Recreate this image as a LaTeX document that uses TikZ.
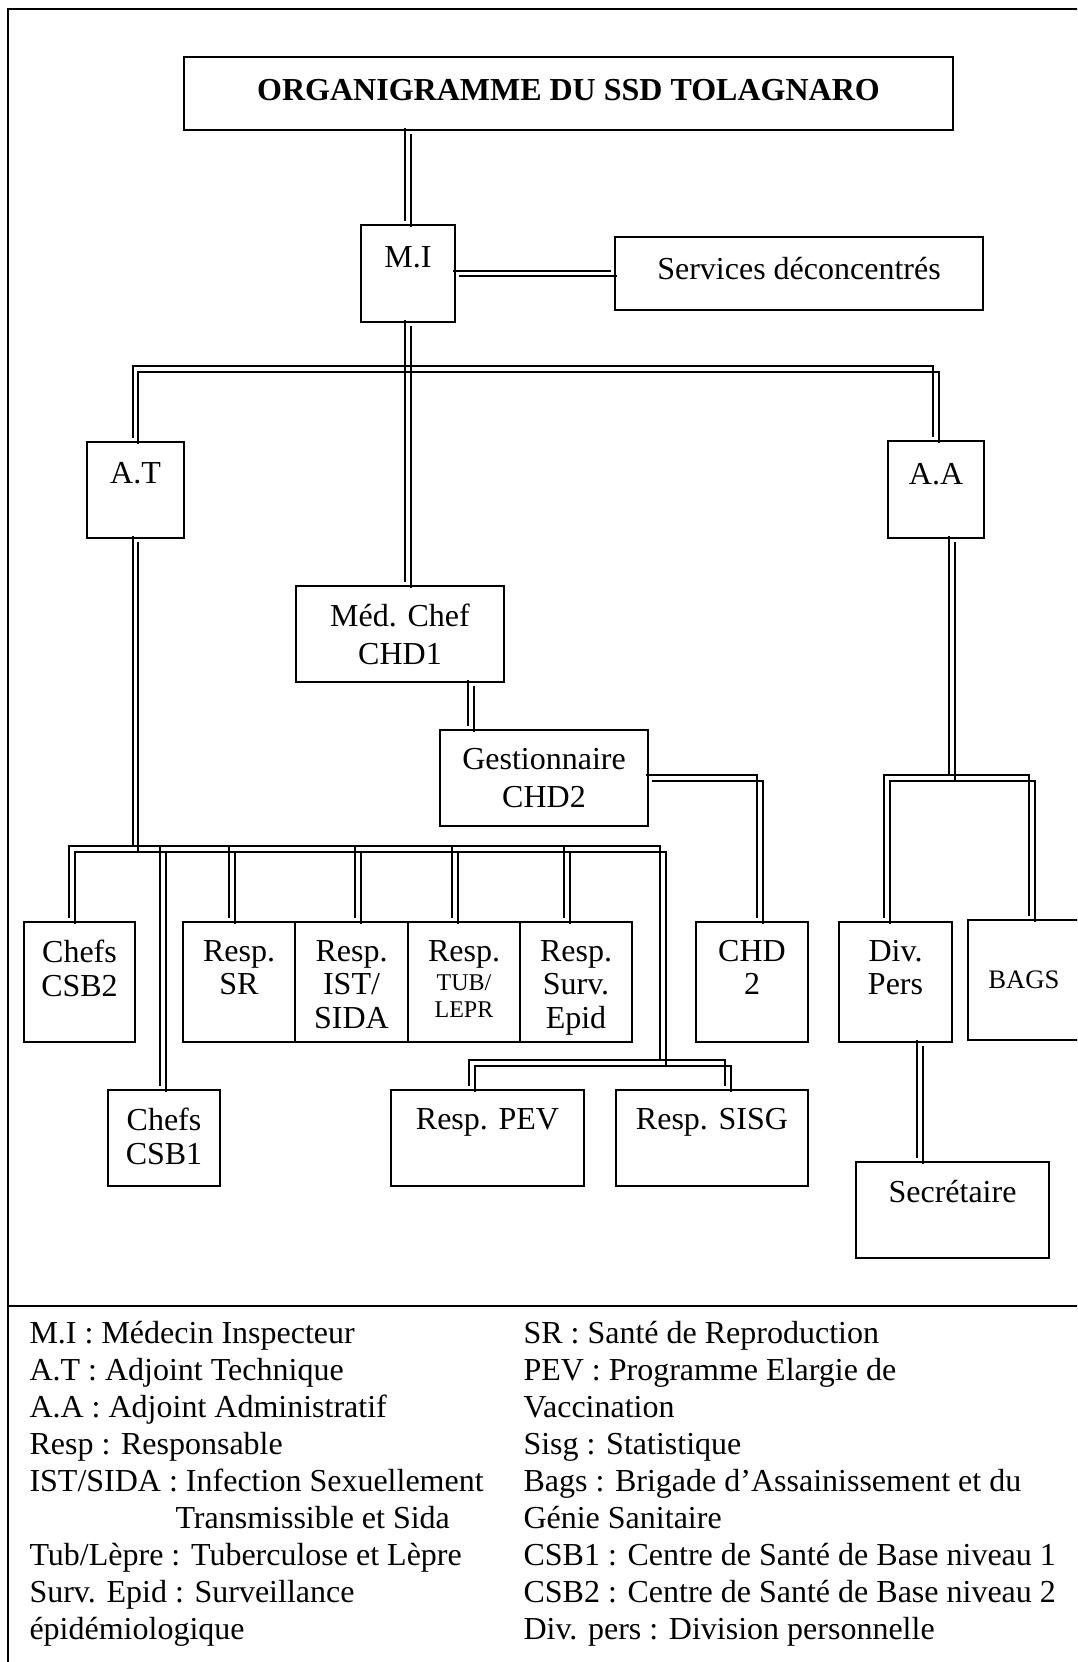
\documentclass[tikz,border=0pt]{standalone}
\usepackage{fontspec}
\setmainfont{Liberation Serif}
\usetikzlibrary{calc,positioning}
\newcommand{\pxu}{0.375pt}
\newcommand{\smalltxt}[1]{{\fontsize{9}{10}\selectfont #1}}

\tikzset{
  box/.style 2 args={draw, line width=.75pt, inner sep=0pt, minimum width=#1*\pxu, minimum height=#2*\pxu},
  boxtext/.style={anchor=north, align=center, inner sep=0pt, yshift=-7pt},
  txt/.style={label={[boxtext]above:#1}},
  dbl/.style={preaction={draw, line width=.75pt, transform canvas={shift={(-1.1pt,1.1pt)}}},
              postaction={draw, line width=.75pt, transform canvas={shift={(1.1pt,-1.1pt)}}}},
  outline/.style={line width=.85pt},
  legline/.style={anchor=base west, inner sep=0pt}
}

\begin{document}
\begin{tikzpicture}[x=\pxu, y=-\pxu, font=\fontsize{12}{12.6}\selectfont]
\useasboundingbox (0,0) rectangle (1077,1662);
\clip (0,0) rectangle (1077,1662);

% frame
\draw[outline] (1090,9) -- (8,9) -- (8,1675);
\draw[outline] (8,1306) -- (1090,1306);

% boxes
\node (title) [box={769}{73}, label={[boxtext,yshift=-1.6pt]above:\bfseries ORGANIGRAMME DU SSD TOLAGNARO}] at (568.5,93.5) {};
\node (mi) [box={94}{97}, label={[boxtext,yshift=-1.2pt]above:M.I}] at (408,273.5) {};
\node (serv) [box={368}{73}, label={[boxtext,yshift=-0.6pt]above:Services déconcentrés}] at (799,273.5) {};
\node (at) [box={97}{96}, label={[boxtext,yshift=-1pt]above:A.T}] at (135.5,490) {};
\node (aa) [box={96}{97}, label={[boxtext,yshift=-1.4pt]above:A.A}] at (936,489.5) {};
\node (med) [box={208}{96}, txt={Méd. Chef\\[1.6pt]CHD1}] at (400,634) {};
\node (gest) [box={208}{96}, txt={Gestionnaire\\[1.6pt]CHD2}] at (544,778) {};
\node (csbtwo) [box={111}{120}, txt={Chefs\\CSB2}] at (79.5,982) {};
\node (sr) [box={112}{120}, txt={Resp.\\SR}] at (239,982) {};
\node (ist) [box={113}{120}, txt={Resp.\\IST/\\SIDA}] at (351.5,982) {};
\node (tub) [box={112}{120}, txt={Resp.\\[-1.5pt]\smalltxt{TUB/}\\[-2.6pt]\smalltxt{LEPR}}] at (464,982) {};
\node (surv) [box={112}{120}, txt={Resp.\\Surv.\\Epid}] at (576,982) {};
\node (chd) [box={112}{120}, txt={CHD\\2}] at (752,982) {};
\node (div) [box={113}{120}, txt={Div.\\Pers}] at (895.5,982) {};
\node (bags) [box={112}{120}, font=\fontsize{10}{12}\selectfont] at (1024,980) {BAGS};
\node (csbone) [box={112}{96}, txt={Chefs\\CSB1}] at (164,1138) {};
\node (pev) [box={193}{96}, txt={Resp. PEV}] at (487.5,1138) {};
\node (sisg) [box={192}{96}, txt={Resp. SISG}] at (712,1138) {};
\node (secr) [box={193}{96}, txt={Secrétaire}] at (952.5,1210) {};

% connectors
\path[dbl] (mi.north |- title.south) -- (mi.north);
\path[dbl] (mi) -- (serv);
\path[dbl] (mi.south) -- (mi.south |- med.north);
\coordinate (barone) at (408,369);
\path[dbl] (at.north) |- (barone) -| (aa.north);
\coordinate (bartwo) at ($(at.south)+(0,310)$);
\path[dbl] (at.south) -- (bartwo);
\coordinate (barthree) at (663,1063);
\path[dbl] ($(csbtwo.north)+(-7.5,0)$) |- (bartwo -| barthree) -- (barthree);
\path[dbl] ($(pev.north)+(-15.5,0)$) |- (barthree) -| ($(sisg.north)+(16,0)$);
\foreach \n/\dx in {csbone/-1, sr/-7, ist/6.5, tub/-9, surv/-9}{
  \coordinate (drop) at ($(\n.north)+(\dx,0)$);
  \path[dbl] (drop |- bartwo) -- (drop);
}
\path[dbl] ($(med.south)+(71,0)$) -- ($(gest.north)+(-73,0)$);
\path[dbl] (gest.east) -| ($(chd.north)+(8,0)$);
\coordinate (barfour) at ($(aa.south)+(16,239)$);
\path[dbl] ($(aa.south)+(16,0)$) -- (barfour);
\path[dbl] ($(div.north)+(-8.5,0)$) |- (barfour) -| ($(bags.north)+(8,0)$);
\path[dbl] ($(div.south)+(24.5,0)$) -- ($(secr.north)+(-32.5,0)$);

% legend
\foreach \t [count=\i from 0] in {M.I : Médecin Inspecteur, A.T : Adjoint Technique,
    A.A : Adjoint Administratif, Resp : Responsable,
    IST/SIDA : Infection Sexuellement, \hspace*{54.75pt}Transmissible et Sida,
    Tub/Lèpre : Tuberculose et Lèpre, Surv. Epid : Surveillance, épidémiologique}
  \node (legl\i) [legline] at (29,1343+37*\i) {\t};
\foreach \t [count=\i from 0] in {SR : Santé de Reproduction, PEV : Programme Elargie de,
    Vaccination, Sisg : Statistique, Bags : Brigade d’Assainissement et du,
    Génie Sanitaire, CSB1 : Centre de Santé de Base niveau 1,
    CSB2 : Centre de Santé de Base niveau 2, Div. pers : Division personnelle}
  \node (legr\i) [legline] at (523,1343+37*\i) {\t};
\end{tikzpicture}
\end{document}
